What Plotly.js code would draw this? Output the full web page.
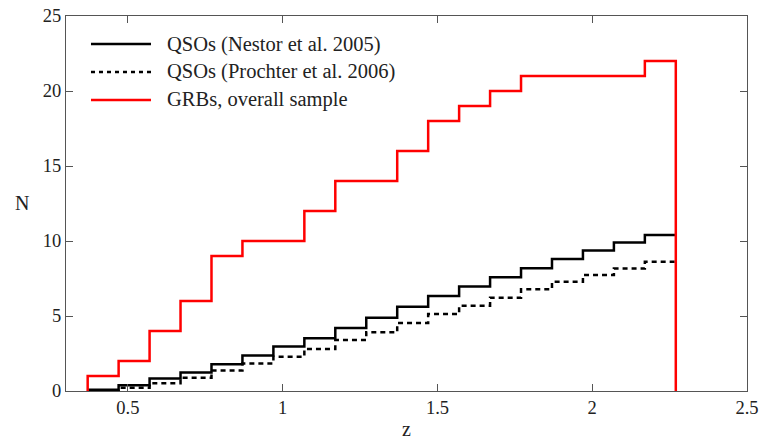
<!DOCTYPE html>
<html>
<head>
<meta charset="utf-8">
<script src="https://cdn.plot.ly/plotly-3.0.1.min.js"></script>
<style>html,body{margin:0;padding:0;background:#fff;}#chart{width:762px;height:440px;}</style>
</head>
<body>
<div id="chart"></div>
<script>
// Bin edges in redshift z (19 bins of width 0.1)
const binEdges = [0.37,0.47,0.57,0.67,0.77,0.87,0.97,1.07,1.17,1.27,1.37,1.47,1.57,1.67,1.77,1.87,1.97,2.07,2.17,2.27];
// Cumulative counts per bin
const nestorQSO = [0.09,0.38,0.84,1.24,1.78,2.36,2.96,3.51,4.2,4.89,5.62,6.33,6.96,7.58,8.18,8.8,9.36,9.9,10.4];
const prochterQSO = [0.02,0.22,0.51,0.89,1.36,1.84,2.29,2.8,3.4,3.91,4.53,5.13,5.69,6.22,6.78,7.29,7.73,8.16,8.62];
const grbOverall = [1,2,4,6,9,10,10,12,14,14,16,18,19,20,21,21,21,21,22];
const seriesNames = ["QSOs (Nestor et al. 2005)","QSOs (Prochter et al. 2006)","GRBs, overall sample"];
const xTicks = [0.5,1,1.5,2,2.5];
const xTickText = ["0.5","1","1.5","2","2.5"];
const yTicks = [0,5,10,15,20,25];

function stepXY(edges, vals, closeEnds){
  const x = [], y = [];
  if (closeEnds){ x.push(edges[0]); y.push(0); }
  for (let i=0;i<vals.length;i++){ x.push(edges[i]); y.push(vals[i]); }
  x.push(edges[edges.length-1]); y.push(vals[vals.length-1]);
  if (closeEnds){ x.push(edges[edges.length-1]); y.push(0); }
  return {x, y};
}

const s1 = stepXY(binEdges, nestorQSO, false);
const s2 = stepXY(binEdges, prochterQSO, false);
const s3 = stepXY(binEdges, grbOverall, true);

const styles = [
  {color:'#000', width:2.5},
  {color:'#000', width:2.5, dash:'5px,4px'},
  {color:'#ff0000', width:2.5}
];

const traces = [
  {x:s1.x, y:s1.y, name:seriesNames[0], mode:'lines', line:Object.assign({shape:'hv'}, styles[0])},
  {x:s2.x, y:s2.y, name:seriesNames[1], mode:'lines', line:Object.assign({shape:'hv'}, styles[1])},
  {x:s3.x, y:s3.y, name:seriesNames[2], mode:'lines', line:Object.assign({shape:'hv'}, styles[2])}
];

const serif = 'Liberation Serif, Times New Roman, serif';

// Manual legend (longer line samples, as in the original)
const legendRowsY = [0.9253, 0.8507, 0.776];
const shapes = [], annotations = [];
seriesNames.forEach((nm, i) => {
  const st = styles[i];
  shapes.push({type:'line', xref:'paper', yref:'paper', x0:0.0367, x1:0.1248, y0:legendRowsY[i], y1:legendRowsY[i],
    line:{color:st.color, width:st.width, dash:st.dash ? '4px,4px' : 'solid'}});
  annotations.push({xref:'paper', yref:'paper', x:0.1454, y:legendRowsY[i], xanchor:'left', yanchor:'middle',
    text:nm, showarrow:false, font:{family:serif, size:20.5, color:'#222'}});
});
annotations.push({xref:'paper', yref:'paper', x:-0.0646, y:0.501, xanchor:'center', yanchor:'middle',
  text:'N', showarrow:false, font:{family:serif, size:20, color:'#222'}});

const axisCommon = {
  showline:true, linecolor:'#555', linewidth:1, mirror:'ticks',
  ticks:'inside', ticklen:7, tickcolor:'#555', tickwidth:1,
  showgrid:false, zeroline:false,
  tickfont:{family:serif, size:18.5, color:'#222'}
};

const layout = {
  width:762, height:440,
  margin:{l:66, r:15, t:16, b:49},
  paper_bgcolor:'#fff', plot_bgcolor:'#fff',
  font:{family:serif, color:'#222'},
  showlegend:false,
  shapes:shapes,
  annotations:annotations,
  xaxis: Object.assign({}, axisCommon, {
    range:[0.3,2.5], tickvals:xTicks, ticktext:xTickText,
    title:{text:'z', font:{size:20, family:serif}, standoff:4}
  }),
  yaxis: Object.assign({}, axisCommon, {
    range:[0,25], tickvals:yTicks
  })
};

Plotly.newPlot('chart', traces, layout, {displayModeBar:false, staticPlot:true});
</script>
</body>
</html>
